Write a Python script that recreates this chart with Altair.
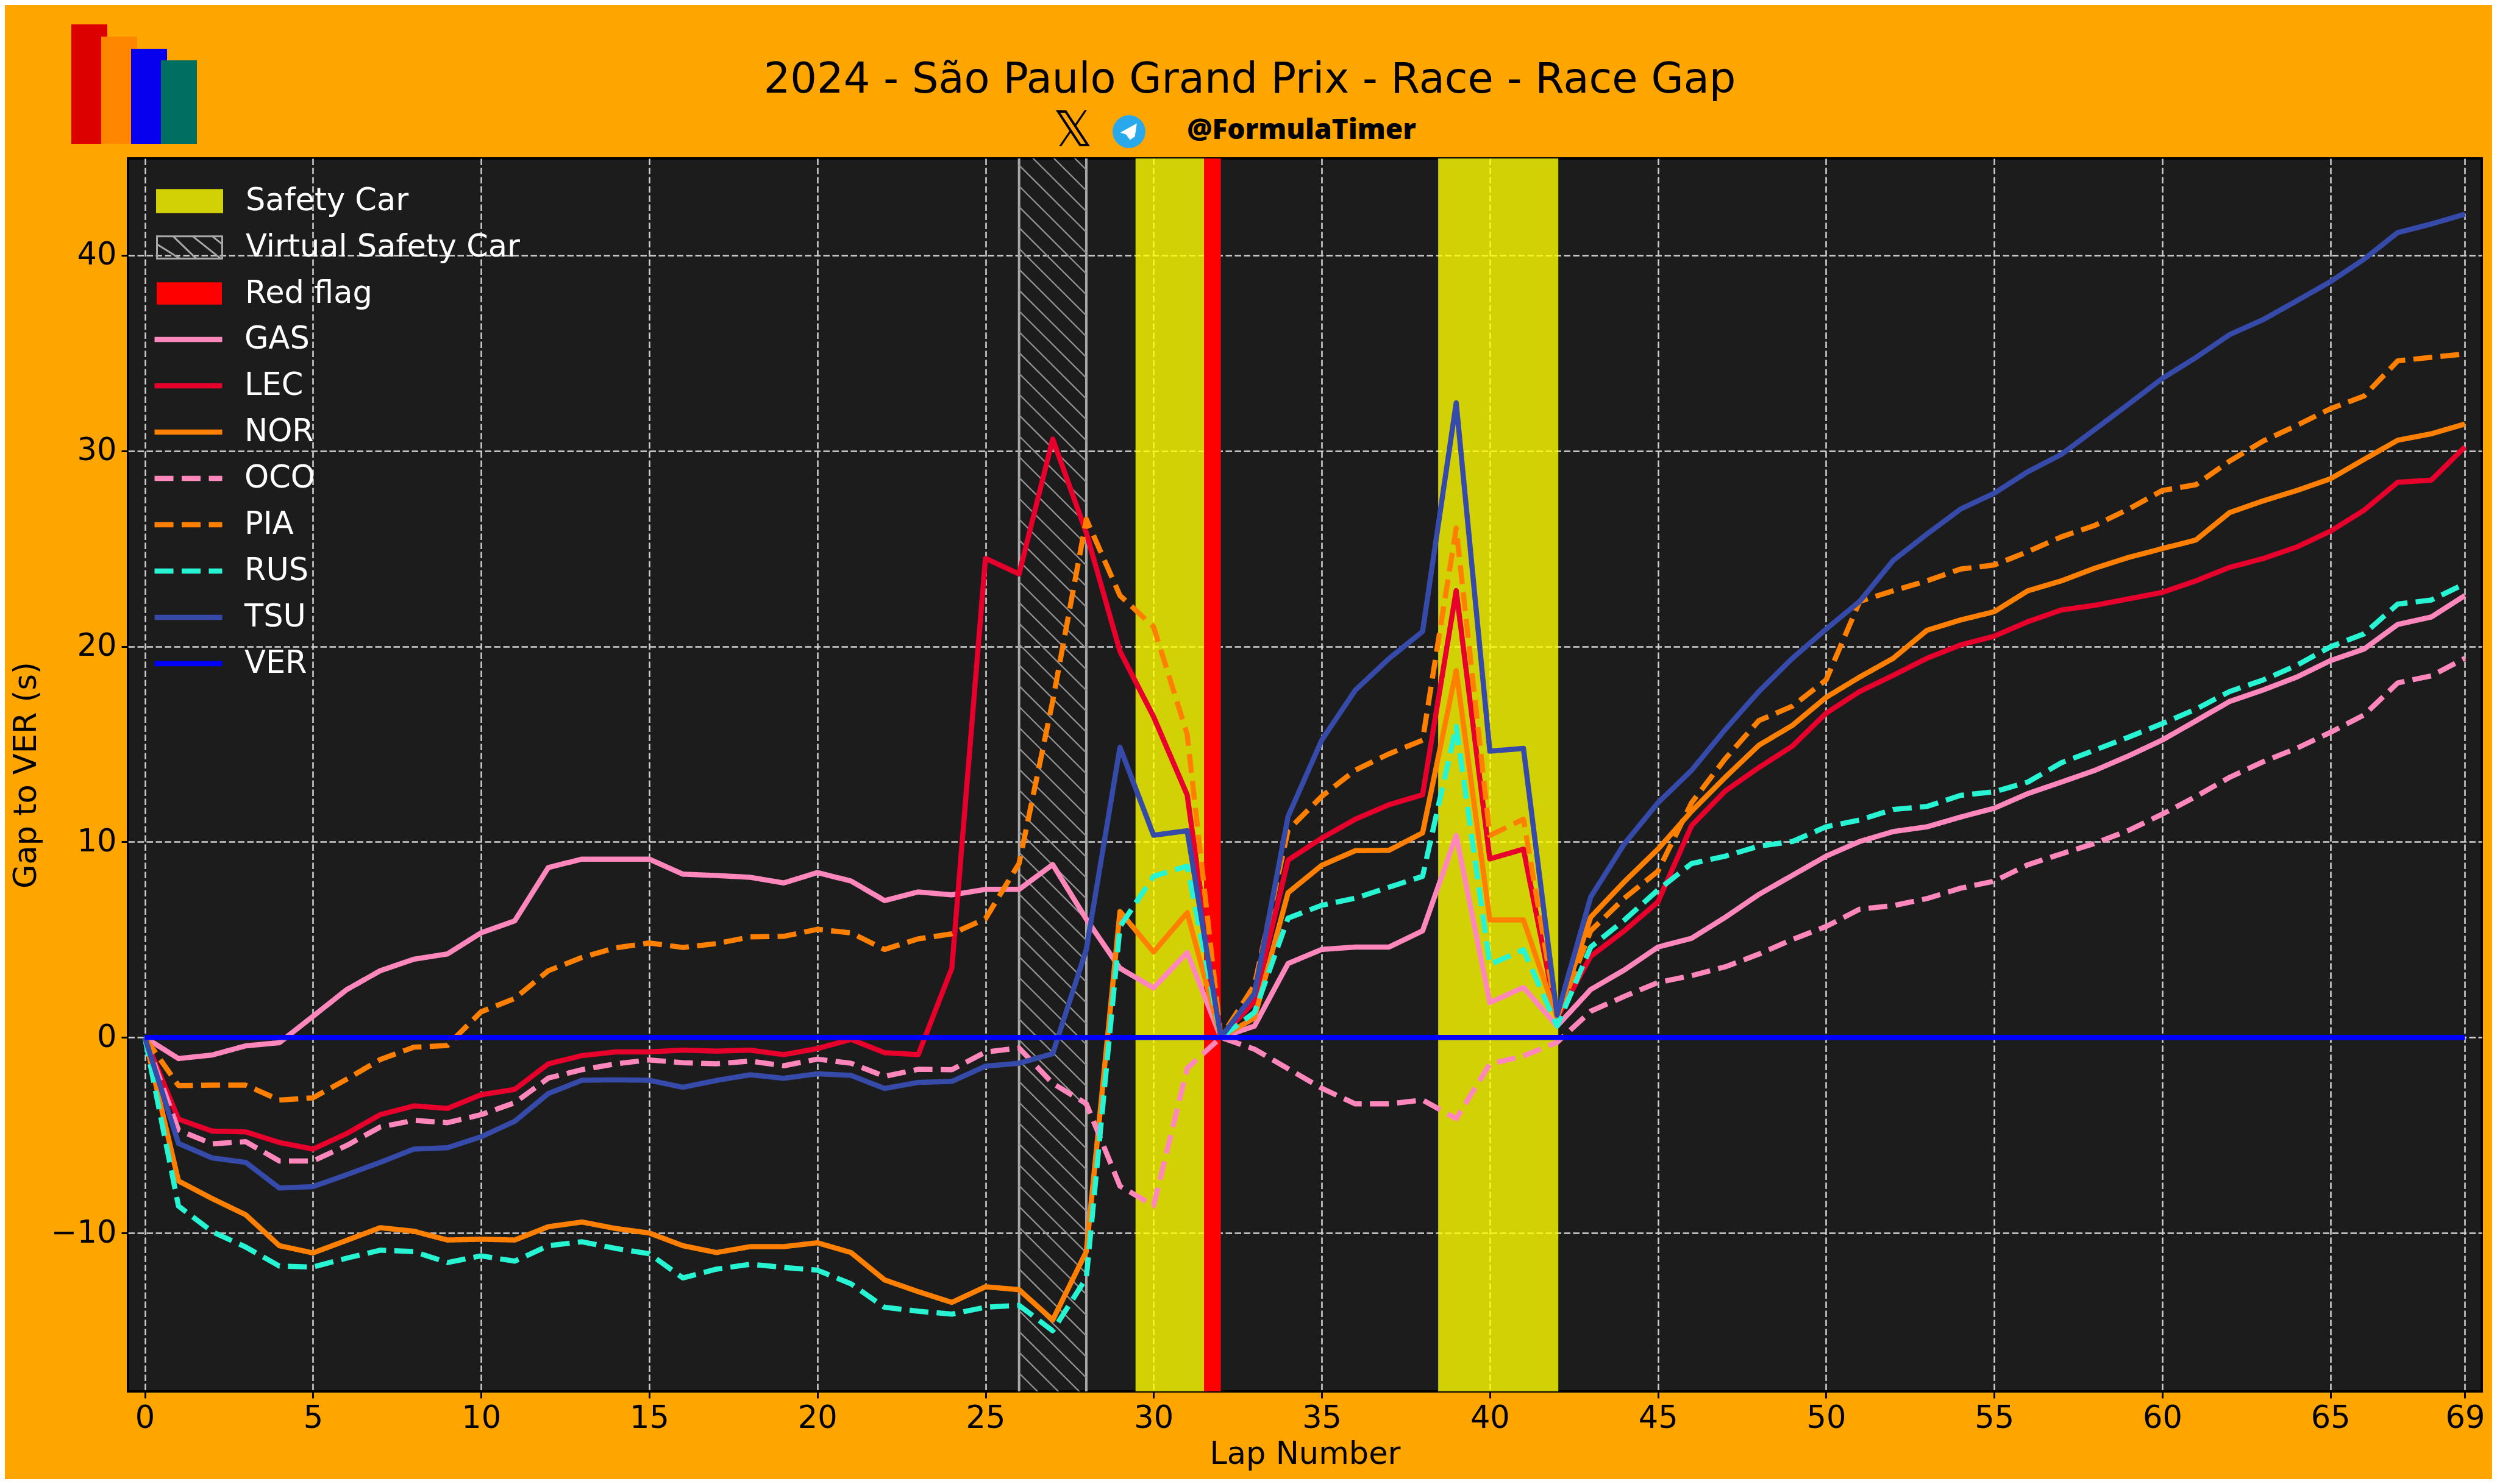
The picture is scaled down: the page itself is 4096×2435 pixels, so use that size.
import altair as alt
import pandas as pd
import numpy as np

LAPS = list(range(70))
GAS = [0,-1.08,-0.9,-0.43,-0.27,1.08,2.44,3.41,4.0,4.27,5.35,5.96,8.69,9.12,9.12,9.12,8.35,8.28,8.19,7.9,8.43,8.0,7.0,7.44,7.29,7.57,7.57,8.84,6.05,3.54,2.53,4.34,0,0.58,3.78,4.5,4.62,4.62,5.45,10.33,1.78,2.56,0.58,2.45,3.45,4.62,5.07,6.14,7.31,8.29,9.27,10.02,10.53,10.77,11.27,11.72,12.47,13.06,13.66,14.4,15.21,16.19,17.18,17.77,18.43,19.27,19.86,21.12,21.5,22.6]
LEC = [0,-4.18,-4.79,-4.83,-5.37,-5.71,-4.92,-3.95,-3.5,-3.63,-2.93,-2.66,-1.35,-0.93,-0.74,-0.74,-0.65,-0.7,-0.65,-0.88,-0.57,-0.1,-0.78,-0.88,3.54,24.5,23.7,30.6,25.8,19.75,16.4,12.4,0,1.84,9.07,10.19,11.16,11.9,12.41,22.85,9.13,9.63,1.0,4.15,5.45,6.93,10.83,12.6,13.8,14.9,16.58,17.69,18.52,19.39,20.07,20.52,21.26,21.86,22.1,22.43,22.76,23.35,24.04,24.49,25.08,25.89,26.96,28.39,28.5,30.2]
NOR = [0,-7.34,-8.24,-9.07,-10.65,-11.02,-10.38,-9.73,-9.91,-10.36,-10.32,-10.36,-9.68,-9.44,-9.77,-10.0,-10.65,-11.0,-10.7,-10.7,-10.5,-11.0,-12.4,-13.0,-13.55,-12.75,-12.9,-14.45,-10.95,6.44,4.37,6.38,0,1.0,7.4,8.8,9.55,9.57,10.46,18.76,6.01,6.01,1.0,6.15,7.96,9.63,11.57,13.3,14.94,15.96,17.39,18.43,19.39,20.82,21.35,21.77,22.84,23.35,24.0,24.55,25.0,25.44,26.84,27.44,27.97,28.57,29.56,30.54,30.87,31.37]
OCO = [0,-4.74,-5.44,-5.33,-6.32,-6.32,-5.53,-4.58,-4.24,-4.36,-3.95,-3.34,-2.08,-1.65,-1.35,-1.15,-1.29,-1.35,-1.21,-1.45,-1.11,-1.32,-1.99,-1.63,-1.65,-0.75,-0.54,-2.35,-3.39,-7.6,-8.6,-1.58,0,-0.6,-1.6,-2.6,-3.4,-3.4,-3.2,-4.15,-1.36,-0.95,-0.25,1.34,2.1,2.81,3.16,3.61,4.26,5.01,5.67,6.56,6.74,7.1,7.63,7.99,8.83,9.39,9.93,10.59,11.42,12.32,13.3,14.1,14.79,15.6,16.49,18.13,18.49,19.39]
PIA = [0,-2.46,-2.44,-2.44,-3.2,-3.09,-2.14,-1.13,-0.5,-0.41,1.31,1.99,3.41,4.09,4.58,4.83,4.6,4.8,5.14,5.17,5.53,5.35,4.5,5.04,5.3,6.07,8.9,17.2,26.5,22.6,21.0,15.5,0,2.67,10.6,12.33,13.67,14.5,15.2,26.05,10.33,11.16,1.0,5.45,7.12,8.5,12.0,14.25,16.2,16.94,18.28,22.3,22.84,23.35,23.95,24.16,24.84,25.6,26.19,27.02,27.97,28.27,29.47,30.5,31.3,32.15,32.8,34.6,34.78,34.95]
RUS = [0,-8.62,-9.93,-10.72,-11.69,-11.74,-11.29,-10.88,-10.95,-11.51,-11.17,-11.44,-10.65,-10.45,-10.79,-11.06,-12.3,-11.85,-11.6,-11.76,-11.9,-12.6,-13.8,-14.0,-14.15,-13.8,-13.7,-15.0,-12.3,5.66,8.24,8.76,0,1.28,6.1,6.76,7.12,7.68,8.24,15.9,3.73,4.48,0.58,4.62,6.0,7.54,8.89,9.27,9.78,10.02,10.77,11.12,11.66,11.81,12.38,12.56,13.06,14.05,14.7,15.36,16.05,16.79,17.69,18.28,19.03,19.98,20.64,22.16,22.37,23.2]
TSU = [0,-5.42,-6.16,-6.39,-7.7,-7.63,-7.02,-6.39,-5.71,-5.64,-5.08,-4.29,-2.87,-2.19,-2.17,-2.19,-2.55,-2.2,-1.91,-2.09,-1.86,-1.94,-2.61,-2.3,-2.25,-1.47,-1.32,-0.83,4.5,14.84,10.34,10.57,0,2.25,11.3,15.2,17.76,19.37,20.76,32.45,14.64,14.78,1.14,7.18,9.9,12.0,13.66,15.75,17.69,19.39,20.88,22.3,24.4,25.74,27.02,27.83,28.93,29.82,31.1,32.39,33.7,34.77,35.94,36.71,37.67,38.65,39.8,41.16,41.6,42.1]
VER = [0] * 70

DRIVERS = ["GAS", "LEC", "NOR", "OCO", "PIA", "RUS", "TSU", "VER"]
SERIES = [GAS, LEC, NOR, OCO, PIA, RUS, TSU, VER]
COLORS = ["#FF87BC", "#E8002D", "#FF8000", "#FF87BC", "#FF8000", "#27F4D2", "#364AA9", "#0000FF"]
DASHES = [[1, 0], [1, 0], [1, 0], [31, 13.5], [31, 13.5], [31, 13.5], [1, 0], [1, 0]]

SAFETY_CAR = [(29.5, 31.5), (38.5, 42.0)]
VSC = [(26.0, 28.0)]
RED_FLAG = [(31.5, 32.0)]

X_TICKS = [0, 5, 10, 15, 20, 25, 30, 35, 40, 45, 50, 55, 60, 65, 69]
Y_TICKS = [-10, 0, 10, 20, 30, 40]

TITLE = "2024 - São Paulo Grand Prix - Race - Race Gap"
HANDLE = "@FormulaTimer"

W, H = 3861, 2023
PAD = dict(left=202, top=252, right=17, bottom=144)
FONT = "DejaVu Sans"
ORANGE = "#FFA500"
PANEL = "#1C1C1C"
FS = 51

lines_df = pd.DataFrame(
    [{"lap": l, "gap": v, "driver": d} for d, s in zip(DRIVERS, SERIES) for l, v in zip(LAPS, s)]
)

x_scale = alt.Scale(domain=[-0.5, 69.5], nice=False, zero=False)
y_scale = alt.Scale(domain=[-18.1, 44.95], nice=False, zero=False)

GRID = dict(grid=True, gridColor="#D0D0D0", gridDash=[10.5, 4.5], gridWidth=2.5)
x_axis = alt.Axis(
    values=X_TICKS, title="Lap Number", domain=False, tickColor="black", tickSize=11, tickWidth=3,
    labelFontSize=FS, titleFontSize=FS, labelFont=FONT, titleFont=FONT, labelColor="black",
    titleColor="black", titleFontWeight="normal", labelPadding=8, titlePadding=9,
    labelFlush=False, labelOverlap=False, format="d", **GRID,
)
y_axis = alt.Axis(
    values=Y_TICKS, title="Gap to VER (s)", domain=False, tickColor="black", tickSize=11, tickWidth=3,
    labelFontSize=FS, titleFontSize=FS, labelFont=FONT, titleFont=FONT, labelColor="black",
    titleColor="black", titleFontWeight="normal", labelPadding=8, titlePadding=14, format="d", **GRID,
)

RECT_SYM = "M-1,-0.34H1V0.34H-1Z"
HATCH_SYM = (
    "M-1,-0.34H1V0.34H-1Z"
    "M-1,-0.1L-0.3,0.34M-0.5,-0.34L0.2,0.34M0.1,-0.34L0.95,0.34M0.7,-0.34L1,-0.1"
)
LEG = dict(orient="none", title=None, labelFont=FONT, labelFontSize=FS, labelColor="white",
           labelLimit=900, padding=0)
LEG_X = 46
LEG_TOP = 68
RECT_LEG = dict(symbolSize=107 * 107, labelOffset=37, **LEG)
LINE_LEG = alt.Legend(symbolType="stroke", symbolStrokeWidth=8.5, rowPadding=0, clipHeight=76,
                      legendX=LEG_X - 7, legendY=259, symbolSize=111 * 111, labelOffset=32, **LEG)

# Keep the band outlines' horizontal edges outside the clipped plot area
Y_OVER = dict(y=alt.value(-12), y2=alt.value(H + 12))

sc = alt.Chart(pd.DataFrame({
    "start": [a for a, _ in SAFETY_CAR], "end": [b for _, b in SAFETY_CAR], "label": "Safety Car"})
).mark_rect(opacity=0.8, stroke="yellow", strokeWidth=4, clip=True).encode(
    x=alt.X("start:Q", scale=x_scale, axis=x_axis),
    x2="end:Q",
    color=alt.Color("label:N", scale=alt.Scale(domain=["Safety Car"], range=["#FFFF00"]),
                    legend=alt.Legend(symbolType=RECT_SYM, symbolStrokeColor="#FFFF00", symbolStrokeWidth=3,
                                      legendX=LEG_X, legendY=LEG_TOP - 53, **RECT_LEG)),
    **Y_OVER,
)

vsc = alt.Chart(pd.DataFrame({
    "start": [a for a, _ in VSC], "end": [b for _, b in VSC], "label": "Virtual Safety Car"})
).mark_rect(fill=None, fillOpacity=0, strokeWidth=4, clip=True).encode(
    x=alt.X("start:Q", scale=x_scale), x2="end:Q",
    stroke=alt.Stroke("label:N", scale=alt.Scale(domain=["Virtual Safety Car"], range=["#A8A8A8"]),
                      legend=alt.Legend(symbolType=HATCH_SYM, symbolStrokeWidth=3, symbolFillColor="transparent",
                                        legendX=LEG_X, legendY=LEG_TOP + 76 - 53, **RECT_LEG)),
    **Y_OVER,
)

# Hatch of the VSC band: diagonal strokes drawn through the chart's scales
hatch_y = 5.2 + np.arange(-25, 45) * 1.065
hatch_df = pd.DataFrame({"x0": VSC[0][0], "x1": VSC[0][1], "y0": hatch_y, "y1": hatch_y - 3.43})
hatch = alt.Chart(hatch_df).mark_rule(color="#929292", strokeWidth=2.3, clip=True).encode(
    x=alt.X("x0:Q", scale=x_scale), x2="x1:Q",
    y=alt.Y("y0:Q", scale=y_scale), y2="y1:Q",
)

rf = alt.Chart(pd.DataFrame({
    "start": [a for a, _ in RED_FLAG], "end": [b for _, b in RED_FLAG], "label": "Red flag"})
).mark_rect().encode(
    x=alt.X("start:Q", scale=x_scale), x2="end:Q",
    color=alt.Color("label:N", scale=alt.Scale(domain=["Red flag"], range=["#FF0000"]),
                    legend=alt.Legend(symbolType=RECT_SYM, legendX=LEG_X, legendY=LEG_TOP + 152 - 53, **RECT_LEG)),
)

lines = alt.Chart(lines_df).mark_line(strokeWidth=8.5, strokeJoin="round", clip=True).encode(
    x=alt.X("lap:Q", scale=x_scale),
    y=alt.Y("gap:Q", scale=y_scale, axis=y_axis),
    color=alt.Color("driver:N", scale=alt.Scale(domain=DRIVERS, range=COLORS), legend=LINE_LEG),
    strokeDash=alt.StrokeDash("driver:N", scale=alt.Scale(domain=DRIVERS, range=DASHES), legend=LINE_LEG),
    order=alt.Order("lap:Q"),
)

# Masthead (outside the plot area, placed in pixels relative to it)
OX, OY = 210, 260
LOGO = pd.DataFrame({
    "x": [117, 166, 215, 264], "x2": [176, 225, 274, 323], "y": [40, 60, 80, 99],
    "c": ["#DC0000", "#FF8700", "#0600EF", "#006F62"],
})
logo = alt.Chart(LOGO.assign(x=LOGO.x - OX, x2=LOGO.x2 - OX, y=LOGO.y - OY, y2=236 - OY)).mark_rect(clip=False).encode(
    x=alt.X("x:Q", scale=None), x2="x2:Q", y=alt.Y("y:Q", scale=None), y2="y2:Q",
    color=alt.Color("c:N", scale=None, legend=None),
)

title = alt.Chart(pd.DataFrame({"t": [TITLE]})).mark_text(
    font=FONT, fontSize=68.7, color="black", align="center", baseline="alphabetic", clip=False
).encode(x=alt.value(2050 - OX), y=alt.value(152 - OY), text="t:N")

handle = alt.Chart(pd.DataFrame({"t": [HANDLE]})).mark_text(
    font="Open Sans", fontWeight=800, fontSize=46, color="black", align="center", baseline="middle", clip=False
).encode(x=alt.value(2135 - OX), y=alt.value(214 - OY), text="t:N")

x_logo = alt.Chart(pd.DataFrame({"t": ["\U0001D54F"]})).mark_text(
    font=FONT, fontSize=80, color="black", align="center", baseline="middle", clip=False
).encode(x=alt.value(1760 - OX), y=alt.value(216 - OY), text="t:N")

tg_bg = alt.Chart(pd.DataFrame({"a": [1]})).mark_point(
    filled=True, fill="#29A9EB", opacity=1, size=54 * 54, shape="circle", clip=False, strokeWidth=0
).encode(x=alt.value(1852 - OX), y=alt.value(216 - OY))
tg_fg = alt.Chart(pd.DataFrame({"a": [1]})).mark_point(
    filled=True, fill="white", opacity=1, size=32 * 32, clip=False, strokeWidth=0,
    shape="M0.8,-0.85L-0.9,0.1L-0.3,0.3L0.1,0.85L0.6,0.5Z",
).encode(x=alt.value(1852 - OX), y=alt.value(216 - OY))

chart = alt.layer(sc, vsc, hatch, rf, lines, logo, title, x_logo, tg_bg, tg_fg, handle).resolve_scale(
    color="independent", strokeDash="independent"
).properties(
    width=W, height=H, padding=PAD,
    autosize=alt.AutoSizeParams(type="none"),
    background=ORANGE,
).configure_view(fill=PANEL, stroke="black", strokeWidth=4)

chart.save("out.html", embed_options={"renderer": "svg", "actions": False})
